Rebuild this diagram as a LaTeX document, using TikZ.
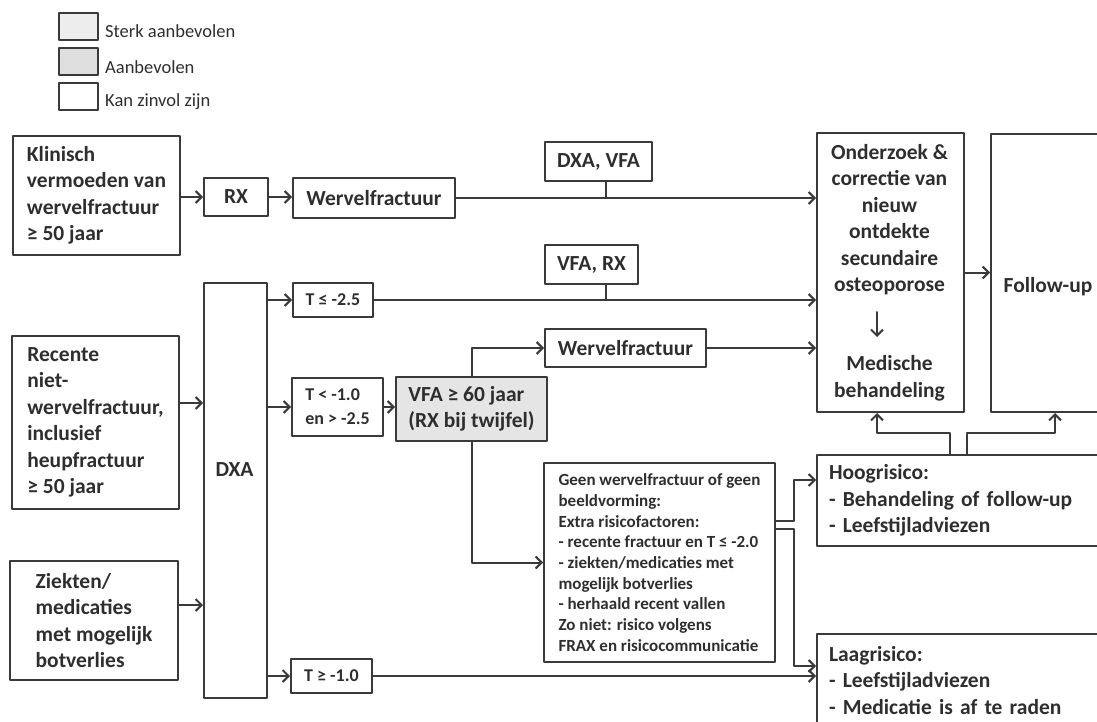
\documentclass[tikz,border=0pt]{standalone}
\usepackage{fontspec}
\setmainfont{Carlito}
\usetikzlibrary{arrows.meta}
\definecolor{lijn}{HTML}{3A3A3A}
\definecolor{tekst}{HTML}{2E2E2E}
\begin{document}
\begin{tikzpicture}[x=1pt,y=-1pt,line cap=round,line join=round,
		lijnstuk/.style={draw=lijn,line width=2pt},
		pijl/.style={lijnstuk,-{Straight Barb[length=6pt,width=12pt]}},
		doos/.style={draw=lijn,line width=2pt,anchor=north west,inner sep=0pt,
			align=left,text=tekst,font=\bfseries\fontsize{21.5}{26.5}\selectfont},
		kleindoos/.style={doos,font=\bfseries\fontsize{18}{24}\selectfont},
		breeddoos/.style={doos,inner xsep=12pt},
		opschrift/.style={text=tekst,align=center,font=\bfseries\fontsize{21.5}{26.5}\selectfont},
		legdoos/.style={draw=lijn,line width=2pt,anchor=north west,minimum width=39pt,minimum height=27pt,inner sep=0pt},
		legtekst/.style={anchor=base west,inner sep=0pt,text=tekst,font=\fontsize{18.5}{22}\selectfont}]
	\useasboundingbox (0,0) rectangle (1097,722);
	\clip (0,0) rectangle (1097,722);
	% Legende
	\node[legdoos,fill=black!7] (sterk) at (58,12) {};
	\node[legdoos,fill=black!13] (aanb) at (58,47) {};
	\node[legdoos] (zinvol) at (58,82) {};
	\node[legtekst] (sterktxt) at (105,38) {Sterk aanbevolen};
	\node[legtekst] (aanbtxt) at (105,74) {Aanbevolen};
	\node[legtekst] (zinvoltxt) at (105,107) {Kan zinvol zijn};
	% Startdozen links
	\node[doos,minimum width=167pt,minimum height=119pt] (klin) at (12,135)
	{Klinisch\\vermoeden van\\wervelfractuur\\≥ 50 jaar};
	\node[doos,minimum width=167pt,minimum height=173pt] (rec) at (11,335)
	{Recente\\niet-\\wervelfractuur,\\inclusief\\heupfractuur\\≥ 50 jaar};
	\node[doos,minimum width=168pt,minimum height=119pt] (zie) at (9,560)
	{Ziekten/\\medicaties\\met mogelijk\\botverlies};
	% Onderzoeken
	\node[doos,minimum width=64pt,minimum height=38pt] (rx) at (203,177) {RX};
	\node[doos,minimum width=162pt,minimum height=40pt] (werv1) at (292,177) {Wervelfractuur};
	\node[doos,minimum width=63pt,minimum height=415pt] (dxa) at (203,282) {};
	\node[opschrift] (dxatxt) at (234.5,470) {DXA};
	\node[kleindoos,minimum width=80pt,minimum height=34pt] (tle) at (292,282) {T ≤ -2.5};
	\node[kleindoos,minimum width=91pt,minimum height=58pt] (tlt) at (291,377) {T < -1.0\\en > -2.5};
	\node[kleindoos,minimum width=81pt,minimum height=34pt] (tge) at (290,658) {T ≥ -1.0};
	\node[doos,fill=black!10,minimum width=151pt,minimum height=64pt] (vfa) at (395,376)
	{VFA ≥ 60 jaar\\(RX bij twijfel)};
	\node[doos,minimum width=107pt,minimum height=39pt] (dxavfa) at (544,141) {DXA, VFA};
	\node[doos,minimum width=93pt,minimum height=39pt] (vfarx) at (544,244) {VFA, RX};
	\node[doos,minimum width=161pt,minimum height=38pt] (werv2) at (544,328) {Wervelfractuur};
	\node[doos,minimum width=231pt,minimum height=199pt,
	font=\bfseries\fontsize{17}{20.7}\selectfont] (geen) at (543,462)
	{Geen wervelfractuur of geen\\beeldvorming:\\Extra risicofactoren:\\- recente fractuur en T ≤ -2.0\\- ziekten/medicaties met\\mogelijk botverlies\\- herhaald recent vallen\\Zo niet: risico volgens\\FRAX en risicocommunicatie};
	% Rechterkolom
	\node[doos,minimum width=147pt,minimum height=279pt] (ond) at (816,132) {};
	\node[opschrift] (ondtop) at (889.5,219.5)
	{Onderzoek \&\\correctie van\\nieuw\\ontdekte\\secundaire\\osteoporose};
	\node[opschrift] (ondbot) at (889.5,378.5) {Medische\\behandeling};
	\node[doos,minimum width=120pt,minimum height=278pt] (fu) at (990,133) {};
	\node[opschrift] (futxt) at (1048,287) {Follow-up};
	\node[breeddoos,text width=276pt,minimum height=91pt] (hoog) at (816,454)
	{Hoogrisico:\\- Behandeling of follow-up\\- Leefstijladviezen};
	\node[breeddoos,text width=276pt,minimum height=93pt] (laag) at (816,633)
	{Laagrisico:\\- Leefstijladviezen\\- Medicatie is af te raden};
	% Hulppunten
	\coordinate (tick) at (606,0);
	\coordinate (pijlrec) at (0,403);
	\coordinate (pijlzie) at (0,605);
	\coordinate (hoogbocht) at (794,480);
	\coordinate (laagbocht) at (794,666);
	\coordinate (opond) at (877,433);
	\coordinate (opfu) at (1055,433);
	% Verbindingen
	\draw[pijl] (klin.east |- rx.west) -- (rx.west);
	\draw[pijl] (rx.east) -- (rx.east -| werv1.west);
	\draw[pijl] (werv1.east) -- (werv1.east -| ond.west);
	\draw[lijnstuk] (dxavfa.south -| tick) -- (werv1.east -| tick);
	\draw[pijl] (rec.east |- pijlrec) -- (dxa.west |- pijlrec);
	\draw[pijl] (zie.east |- pijlzie) -- (dxa.west |- pijlzie);
	\draw[pijl] (dxa.east |- tle.west) -- (tle.west);
	\draw[pijl] (dxa.east |- tlt.west) -- (tlt.west);
	\draw[pijl] (dxa.east |- tge.west) -- (tge.west);
	\draw[pijl] (tle.east) -- (tle.east -| ond.west);
	\draw[lijnstuk] (vfarx.south -| tick) -- (tle.east -| tick);
	\draw[pijl] (tlt.east) -- (tlt.east -| vfa.west);
	\draw[pijl] (vfa.north) |- (werv2.west);
	\draw[pijl] (vfa.south) |- (geen.west);
	\draw[pijl] (werv2.east) -- (werv2.east -| ond.west);
	\draw[pijl] (ond.east) -- (ond.east -| fu.west);
	\draw[pijl] (877,312) -- (877,337); % binnen onderzoek
	\draw[pijl] ([yshift=42pt]geen.east) -| (hoogbocht) -- (hoogbocht -| hoog.west);
	\draw[pijl] ([yshift=34pt]geen.east) -| (laagbocht) -- (laagbocht -| laag.west);
	\draw[pijl] (tge.east) -- (tge.east -| laag.west);
	\draw[pijl] ([xshift=-17pt]hoog.north) |- (opond) -- (opond |- ond.south);
	\draw[pijl] (hoog.north) |- (opfu) -- (opfu |- fu.south);
\end{tikzpicture}
\end{document}
